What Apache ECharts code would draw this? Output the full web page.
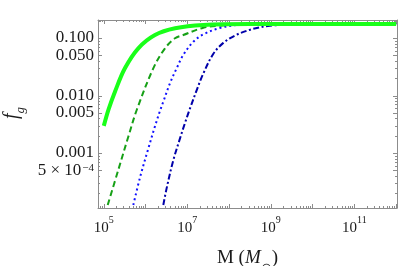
<!DOCTYPE html>
<html>
<head>
<meta charset="utf-8">
<script src="https://cdn.jsdelivr.net/npm/echarts@6/dist/echarts.min.js"></script>
<style>html,body{margin:0;padding:0;background:#fff;}#c{width:407px;height:266px;}</style>
</head>
<body>
<div id="c"></div>
<script>
// Data (M in solar masses, f_g)
var massSolid = [1.0e5, 1.3e5, 1.85e5, 3.2e5, 6.7e5, 1.68e6, 5.1e6, 2.4e7, 3.2e8, 1.0e12];
var fSolid    = [0.0030, 0.0058, 0.0118, 0.0301, 0.067, 0.114, 0.149, 0.170, 0.177, 0.177];

var massDashed = [1.24e5, 2.22e5, 3.86e5, 6.14e5, 1.53e6, 2.92e6, 5.07e6, 8.0e6, 2.42e7, 6.0e7, 3.2e8, 1.0e12];
var fDashed    = [1.26e-4, 5.13e-4, 1.94e-3, 5.66e-3, 0.030, 0.067, 0.100, 0.114, 0.153, 0.166, 0.175, 0.177];

var massDotted = [5.09e5, 7.36e5, 1.16e6, 1.68e6, 2.22e6, 2.66e6, 3.85e6, 5.57e6, 8.0e6, 1.39e7, 2.42e7, 6.0e7, 1.5e8, 3.2e8, 1.5e9, 1.0e12];
var fDotted    = [1.26e-4, 3.8e-4, 1.2e-3, 2.95e-3, 5.5e-3, 7.9e-3, 0.0166, 0.0302, 0.0513, 0.087, 0.117, 0.151, 0.170, 0.176, 0.177, 0.177];

var massDashDot = [2.66e6, 3.21e6, 4.62e6, 6.68e6, 8.81e6, 1.16e7, 1.68e7, 2.42e7, 4.2e7, 7.28e7, 1.5e8, 3.2e8, 5.5e8, 9.5e8, 5.0e9, 1.0e12];
var fDashDot    = [1.26e-4, 2.51e-4, 7.6e-4, 1.82e-3, 3.39e-3, 6.03e-3, 0.0126, 0.0245, 0.0537, 0.0832, 0.115, 0.141, 0.155, 0.166, 0.176, 0.177];

var xMajorTicks = [1e5, 1e6, 1e7, 1e8, 1e9, 1e10, 1e11, 1e12];
var xLabelTicks = [1e5, 1e7, 1e9, 1e11];
var yLabelTicks = [5e-4, 0.001, 0.005, 0.01, 0.05, 0.1];
var yLabelText  = ['5 × 10^−4', '0.001', '0.005', '0.010', '0.050', '0.100'];

var xMin = 7.26e4, xMax = 1.05e12;
var yMin = 1.12e-4, yMax = 0.208;

function minorTicks(lo, hi, exclude) {
  var out = [];
  for (var e = -5; e <= 13; e++) {
    for (var m = 1; m <= 9; m++) {
      var v = m * Math.pow(10, e);
      if (v >= lo && v <= hi) {
        var skip = false;
        for (var i = 0; i < exclude.length; i++) {
          if (Math.abs(exclude[i] - v) / v < 1e-6) skip = true;
        }
        if (!skip) out.push(v);
      }
    }
  }
  return out;
}
var xMinor = minorTicks(xMin, xMax, xMajorTicks);
var yMinor = minorTicks(yMin, yMax, yLabelTicks);

function pairs(xs, ys) { return xs.map(function (x, i) { return [x, ys[i]]; }); }

var axisColor = '#8c8c8c';
var serif = 'Liberation Serif';
var txt = '#1a1a1a';

function xAxisDef(pos, major, labels) {
  return {
    type: 'log', position: pos, min: xMin, max: xMax, logBase: 10,
    axisLine: { show: major, lineStyle: { color: axisColor, width: 1 } },
    axisTick: { show: true, inside: true, length: major ? 4 : 2, customValues: major ? xMajorTicks : xMinor,
      lineStyle: { color: axisColor, width: 1 } },
    axisLabel: labels ? {
      show: true, customValues: xLabelTicks, margin: 7, hideOverlap: false,
      showMinLabel: true, showMaxLabel: true,
      formatter: function (v) {
        var e = Math.round(Math.log10(v));
        return '{b|10}{s|' + e + '}';
      },
      rich: {
        b: { fontFamily: serif, fontSize: 15, color: txt, lineHeight: 21, verticalAlign: 'bottom' },
        s: { fontFamily: serif, fontSize: 10, color: txt, lineHeight: 10, verticalAlign: 'top' }
      }
    } : { show: false },
    splitLine: { show: false }, minorTick: { show: false }
  };
}
function yAxisDef(pos, major, labels) {
  return {
    type: 'log', position: pos, min: yMin, max: yMax, logBase: 10,
    axisLine: { show: major, lineStyle: { color: axisColor, width: 1 } },
    axisTick: { show: true, inside: true, length: major ? 4 : 2, customValues: major ? yLabelTicks : yMinor,
      lineStyle: { color: axisColor, width: 1 } },
    axisLabel: labels ? {
      show: true, customValues: yLabelTicks, margin: 4, hideOverlap: false,
      showMinLabel: true, showMaxLabel: true,
      formatter: function (v) {
        for (var i = 0; i < yLabelTicks.length; i++) {
          if (Math.abs(yLabelTicks[i] - v) / v < 1e-6) {
            var t = yLabelText[i];
            var k = t.indexOf('^');
            if (k >= 0) return '{b|' + t.slice(0, k) + '}{s|' + t.slice(k + 1) + '}';
            return '{b|' + t + '}';
          }
        }
        return '';
      },
      rich: {
        b: { fontFamily: serif, fontSize: 17, color: txt, lineHeight: 16, verticalAlign: 'bottom' },
        s: { fontFamily: serif, fontSize: 11, color: txt, lineHeight: 8, verticalAlign: 'top', padding: [0, 0, 0, 1] }
      }
    } : { show: false },
    splitLine: { show: false }, minorTick: { show: false }
  };
}

var xs = [xAxisDef('bottom', true, true), xAxisDef('bottom', false, false), xAxisDef('top', true, false), xAxisDef('top', false, false)];
xs[0].name = 'M ({i|M}{sub|⊙})';
xs[0].nameLocation = 'middle';
xs[0].nameGap = 40;
xs[0].nameTextStyle = {
  fontFamily: serif, fontSize: 19, color: txt,
  rich: {
    i: { fontFamily: serif, fontSize: 19, fontStyle: 'italic', color: txt, lineHeight: 20, verticalAlign: 'top' },
    sub: { fontFamily: serif, fontSize: 13, color: txt, lineHeight: 12, verticalAlign: 'bottom', padding: [0, 0, -7, 0] }
  }
};
var ys = [yAxisDef('left', true, true), yAxisDef('left', false, false), yAxisDef('right', true, false), yAxisDef('right', false, false)];
ys[0].name = '{i|f}{sub|g}';
ys[0].nameLocation = 'middle';
ys[0].nameGap = 76;
ys[0].nameTextStyle = {
  color: txt, padding: [0, 0, 0, 2],
  rich: {
    i: { fontFamily: serif, fontSize: 20, fontStyle: 'italic', color: txt, lineHeight: 20, verticalAlign: 'top' },
    sub: { fontFamily: serif, fontSize: 13, fontStyle: 'italic', color: txt, lineHeight: 13, verticalAlign: 'bottom', padding: [0, 0, -5, 0] }
  }
};

var chart = echarts.init(document.getElementById('c'), null, { renderer: 'canvas' });
chart.setOption({
  backgroundColor: '#ffffff',
  animation: false,
  grid: { left: 98, top: 20, right: 10, bottom: 58, containLabel: false, outerBoundsMode: 'none' },
  xAxis: xs,
  yAxis: ys,
  series: [
    { type: 'line', data: pairs(massDashDot, fDashDot), smooth: 0.35, showSymbol: false, clip: true,
      lineStyle: { color: '#0000aa', width: 2, type: [6, 2.5, 2, 2.5] } },
    { type: 'line', data: pairs(massDotted, fDotted), smooth: 0.35, showSymbol: false, clip: true,
      lineStyle: { color: '#1010ff', width: 2, type: [2, 3] } },
    { type: 'line', data: pairs(massDashed, fDashed), smooth: 0.35, showSymbol: false, clip: true,
      lineStyle: { color: '#16a016', width: 2, type: [6, 3.5] } },
    { type: 'line', data: pairs(massSolid, fSolid), smooth: 0.35, showSymbol: false, clip: true,
      lineStyle: { color: '#19ff19', width: 4 } }
  ]
});
</script>
</body>
</html>
